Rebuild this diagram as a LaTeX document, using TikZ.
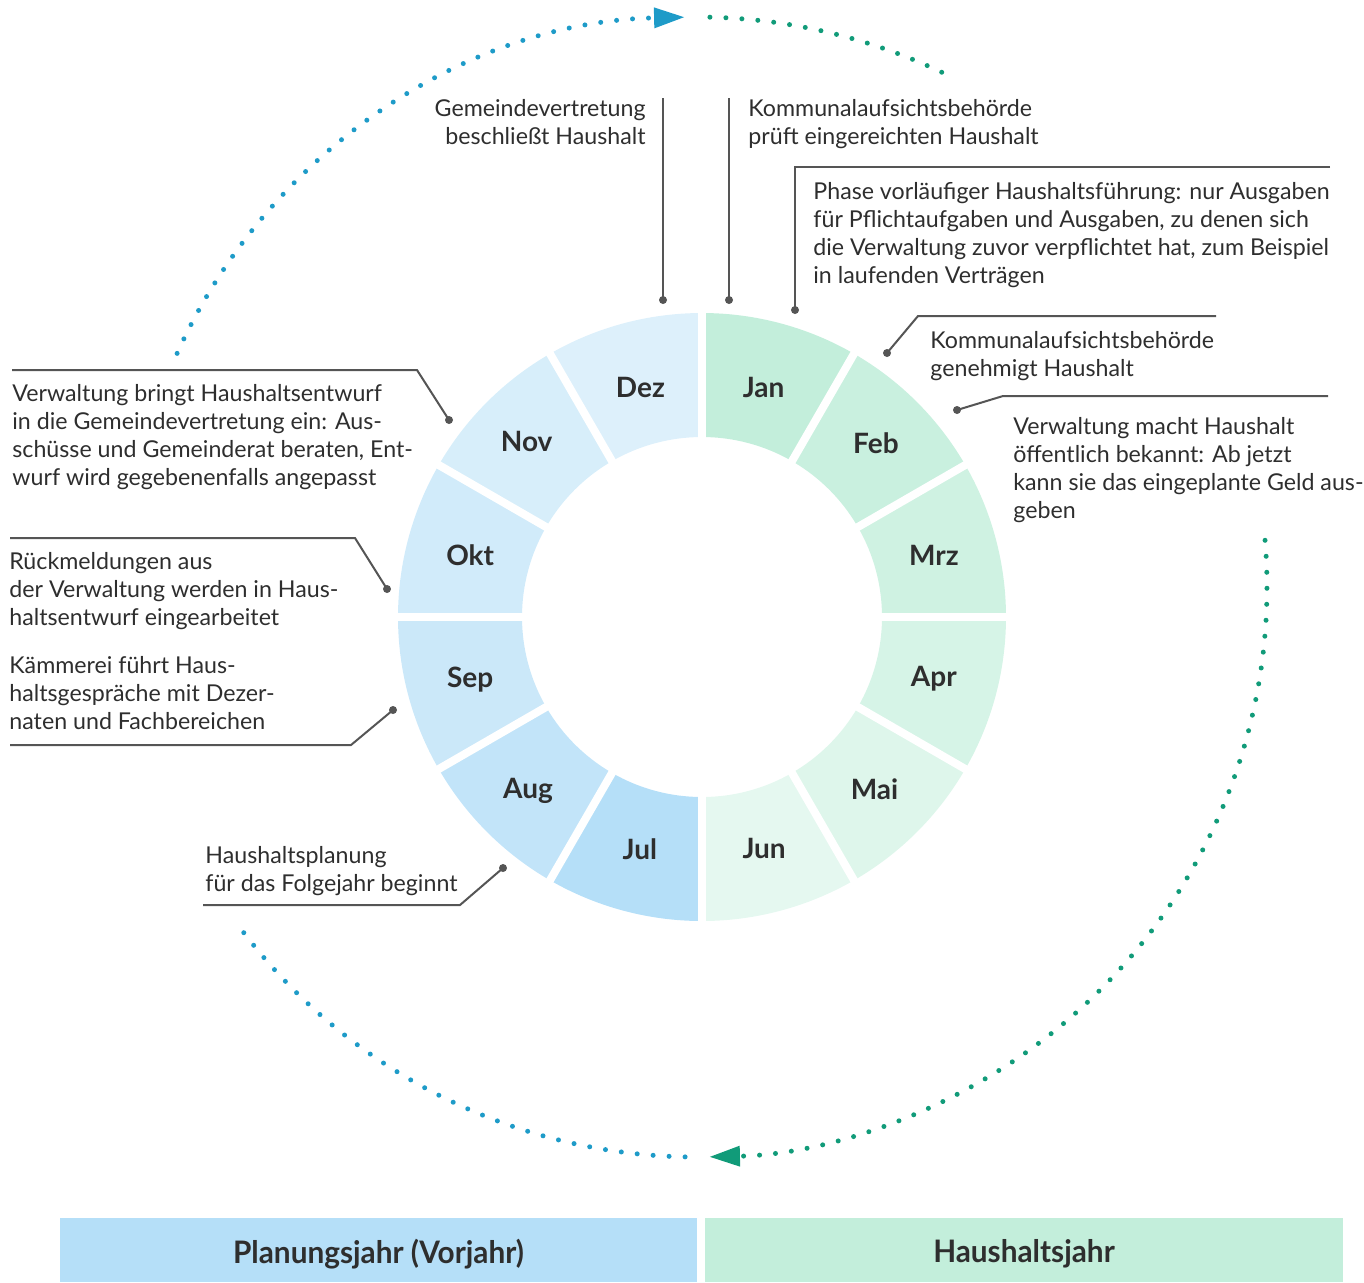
\documentclass[tikz,border=0pt]{standalone}
\usepackage{fontspec}
\setmainfont{Lato}
\usetikzlibrary{arrows.meta}

\definecolor{dotblue}{HTML}{1E9BC8}
\definecolor{dotgreen}{HTML}{119B79}
\definecolor{leader}{HTML}{555555}
\definecolor{txt}{HTML}{2E2E2E}
\definecolor{cjan}{HTML}{C3EEDB}
\definecolor{cfeb}{HTML}{C9F0DF}
\definecolor{cmrz}{HTML}{CFF2E2}
\definecolor{capr}{HTML}{D6F4E7}
\definecolor{cmai}{HTML}{DEF6EB}
\definecolor{cjun}{HTML}{E5F8F0}
\definecolor{cjul}{HTML}{B5DFF8}
\definecolor{caug}{HTML}{C2E4F9}
\definecolor{csep}{HTML}{CBE8F9}
\definecolor{cokt}{HTML}{D1EBFA}
\definecolor{cnov}{HTML}{D7EEFA}
\definecolor{cdez}{HTML}{DDF0FB}

\begin{document}
\begin{tikzpicture}[x=0.5pt, y=0.5pt,
    note/.style={inner sep=0pt, text=txt, font=\fontsize{11.6}{14}\selectfont},
    month/.style={text=txt, font=\fontsize{14}{16}\selectfont\bfseries},
    yearlabel/.style={text=txt, font=\fontsize{15.5}{18}\selectfont\bfseries, xscale=0.96},
    leaderline/.style={leader, line width=1pt},
    dots/.style={line width=2.5pt, line cap=round, dash pattern=on 0pt off 8pt},
    tip/.style={-{Triangle[length=15pt, width=10.5pt, line width=0pt]}}]
    \useasboundingbox (0,0) rectangle (1364,-1282);

    \coordinate (ctr) at (702,-617);
    \coordinate (orb) at (697,-587);

    % month ring
    \foreach \m/\a/\r/\c in {Jan/75/238/cjan, Feb/45/246/cfeb, Mrz/15/240/cmrz, Apr/-15/240/capr, Mai/-45/244/cmai, Jun/-75/240/cjun,
                             Jul/-105/240/cjul, Aug/-135/246/caug, Sep/-165/240/csep, Okt/165/240/cokt, Nov/135/248/cnov, Dez/105/238/cdez}
    {
        \fill[\c] ([shift={(\a-15:180)}]ctr) -- ([shift={(\a-15:304)}]ctr)
            arc[start angle=\a-15, end angle=\a+15, radius=304]
            -- ([shift={(\a+15:180)}]ctr)
            arc[start angle=\a+15, end angle=\a-15, radius=180] -- cycle;
        \node[month] (m\m) at ([shift={(\a:\r)}]ctr) {\m};
    }
    \foreach \a in {0,30,...,330}
        \draw[white, line width=4pt] ([shift={(\a:175)}]ctr) -- ([shift={(\a:310)}]ctr);

    % dotted cycle
    \draw[dots, dotblue, tip] ([shift={(155.8:570)}]orb) arc[start angle=155.8, end angle=91.3, radius=570];
    \draw[dots, dotgreen] ([shift={(88.7:570)}]orb) arc[start angle=88.7, end angle=64.4, radius=570];
    \draw[dots, dotgreen, tip] ([shift={(4.7:570)}]orb) arc[start angle=4.7, end angle=-88.7, radius=570];
    \draw[dots, dotblue] ([shift={(-91.2:570)}]orb) arc[start angle=-91.2, end angle=-143, radius=570];

    % notes
    \node[note, anchor=north east, align=right] (beschluss) at (646,-99) {Gemeindevertretung\\beschließt Haushalt};
    \node[note, anchor=north west, align=left] (pruefung) at (748,-99) {Kommunalaufsichtsbehörde\\prüft eingereichten Haushalt};
    \node[note, anchor=north west, align=left] (phase) at (813,-182) {Phase vorläufiger Haushaltsführung: nur Ausgaben\\für Pflichtaufgaben und Ausgaben, zu denen sich\\die Verwaltung zuvor verpflichtet hat, zum Beispiel\\in laufenden Verträgen};
    \node[note, anchor=north west, align=left] (genehmigung) at (930,-331) {Kommunalaufsichtsbehörde\\genehmigt Haushalt};
    \node[note, anchor=north west, align=left] (bekannt) at (1013,-417) {Verwaltung macht Haushalt\\öffentlich bekannt: Ab jetzt\\kann sie das eingeplante Geld aus-\\geben};
    \node[note, anchor=north west, align=left] (entwurf) at (12,-384) {Verwaltung bringt Haushaltsentwurf\\in die Gemeindevertretung ein: Aus-\\schüsse und Gemeinderat beraten, Ent-\\wurf wird gegebenenfalls angepasst};
    \node[note, anchor=north west, align=left] (rueck) at (9,-552) {Rückmeldungen aus\\der Verwaltung werden in Haus-\\haltsentwurf eingearbeitet};
    \node[note, anchor=north west, align=left] (gespraech) at (9,-656) {Kämmerei führt Haus-\\haltsgespräche mit Dezer-\\naten und Fachbereichen};
    \node[note, anchor=north west, align=left] (planung) at (205,-846) {Haushaltsplanung\\für das Folgejahr beginnt};

    % leader lines
    \coordinate (a0) at (663,-98);   \coordinate (a) at (663,-300);
    \coordinate (b0) at (729,-98);   \coordinate (b) at (729,-300);
    \coordinate (c0) at (1330,-167); \coordinate (c1) at (795,-167);  \coordinate (c) at (795,-310);
    \coordinate (d0) at (1216,-316); \coordinate (d1) at (918,-316);  \coordinate (d) at (887,-353);
    \coordinate (e0) at (1328,-396); \coordinate (e1) at (1003,-396); \coordinate (e) at (957,-410);
    \coordinate (f0) at (12,-370);   \coordinate (f1) at (417,-370);  \coordinate (f) at (449,-420);
    \coordinate (g0) at (10,-538);   \coordinate (g1) at (355,-538);  \coordinate (g) at (387,-589);
    \coordinate (h0) at (10,-745);   \coordinate (h1) at (351,-745);  \coordinate (h) at (393,-710);
    \coordinate (i0) at (203,-905);  \coordinate (i1) at (460,-905);  \coordinate (i) at (503,-868);

    \draw[leaderline] (a0)--(a);
    \draw[leaderline] (b0)--(b);
    \foreach \p in {c,d,e,f,g,h,i}
        \draw[leaderline] (\p0)--(\p1)--(\p);
    \foreach \p in {a,b,c,d,e,f,g,h,i}
        \fill[leader] (\p) circle (2pt);

    % year bars
    \fill[cjul] (60,-1218) rectangle (697,-1282);
    \fill[cjan] (705,-1218) rectangle (1343,-1282);
    \node[yearlabel] (vorjahr) at (378.5,-1254) {Planungsjahr (Vorjahr)};
    \node[yearlabel] (hhjahr) at (1024,-1254) {Haushaltsjahr};
\end{tikzpicture}
\end{document}
